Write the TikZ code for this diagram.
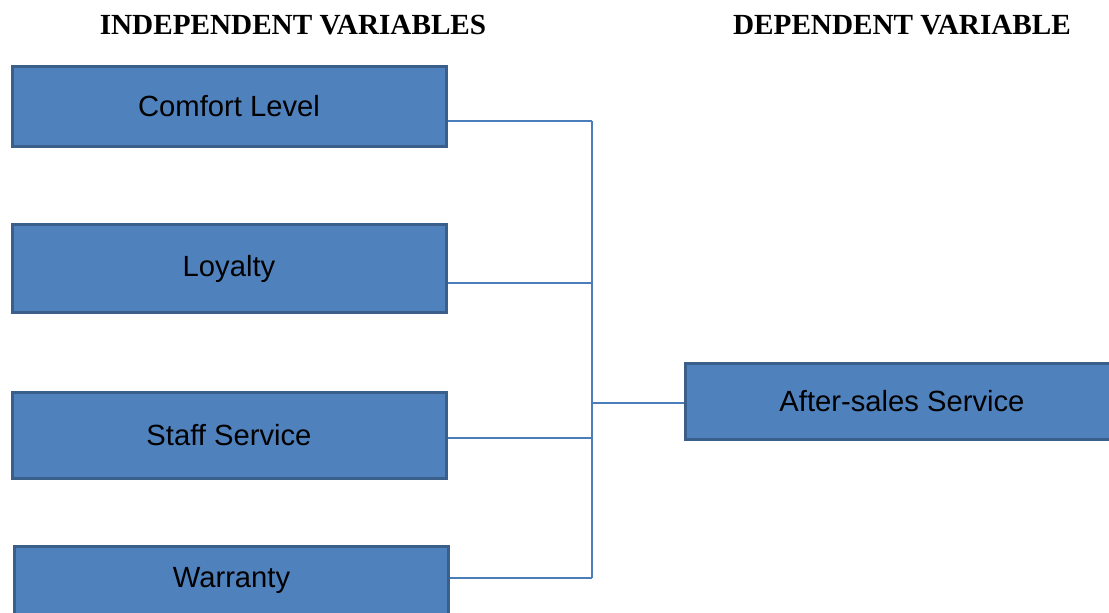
\documentclass[tikz,border=0pt]{standalone}
\usepackage{fontspec}
\setmainfont{Liberation Serif}
\newfontfamily\boxfont{Liberation Sans}
\usepackage{tikz}
\definecolor{mfill}{HTML}{4F81BD}
\definecolor{mborder}{HTML}{3A5F8B}
\definecolor{mline}{HTML}{4A7EBB}

\begin{document}
\begin{tikzpicture}[x=0.5pt, y=-0.5pt,
    varbox/.style={draw=mborder, line width=1.5pt, fill=mfill, minimum width=217pt,
      inner sep=0pt, font=\boxfont\fontsize{14.6}{17}\selectfont},
    bus/.style={draw=mline, line width=1pt},
    header/.style={font=\bfseries\fontsize{14.6}{17}\selectfont}]
      \clip (0, 0) rectangle (1109, 612);
      \useasboundingbox (0, 0) rectangle (1109, 612);
      \node [header] (indep) at (293, 25) {INDEPENDENT VARIABLES};
      \node [header] (dep) at (902, 25) {DEPENDENT VARIABLE};
      \node [varbox, minimum height=40pt] (comfort) at (229, 106.5) {Comfort Level};
      \node [varbox, minimum height=44pt] (loyalty) at (229, 268.5) {Loyalty};
      \node [varbox, minimum height=43pt] (staff) at (229, 435.5) {Staff Service};
      \node [varbox, minimum height=34pt] (warranty) at (231.5, 580.5) {Warranty};
      \node [varbox, minimum height=38pt] (after) at (902, 401.5) {After-sales Service};
      \coordinate (b1) at (592, 121);
      \coordinate (b2) at (592, 283);
      \coordinate (b3) at (592, 438);
      \coordinate (b4) at (592, 578);
      \coordinate (b5) at (592, 403);
      \draw [bus] (b1) -- (b4);
      \draw [bus] (comfort.east |- b1) -- (b1);
      \draw [bus] (loyalty.east |- b2) -- (b2);
      \draw [bus] (staff.east |- b3) -- (b3);
      \draw [bus] (warranty.east |- b4) -- (b4);
      \draw [bus] (b5) -- (after.west |- b5);
    \end{tikzpicture}
\end{document}
